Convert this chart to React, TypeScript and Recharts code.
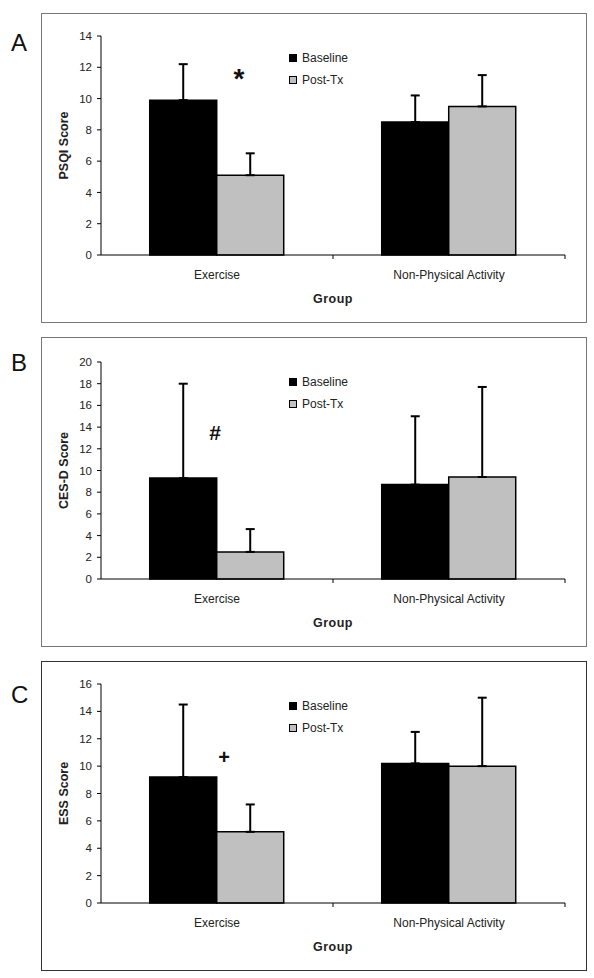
import { Bar, BarChart, ErrorBar, Legend, ReferenceDot, XAxis, YAxis } from "recharts";

const groups = ["Exercise", "Non-Physical Activity"];
const seriesNames = ["Baseline", "Post-Tx"];

// panel A - PSQI
const psqiBaseline = [9.9, 8.5];
const psqiBaselineSd = [2.3, 1.7];
const psqiPost = [5.1, 9.5];
const psqiPostSd = [1.4, 2.0];
const psqiTicks = [0, 2, 4, 6, 8, 10, 12, 14];

// panel B - CES-D
const cesdBaseline = [9.3, 8.7];
const cesdBaselineSd = [8.7, 6.3];
const cesdPost = [2.5, 9.4];
const cesdPostSd = [2.1, 8.3];
const cesdTicks = [0, 2, 4, 6, 8, 10, 12, 14, 16, 18, 20];

// panel C - ESS
const essBaseline = [9.2, 10.2];
const essBaselineSd = [5.3, 2.3];
const essPost = [5.2, 10.0];
const essPostSd = [2.0, 5.0];
const essTicks = [0, 2, 4, 6, 8, 10, 12, 14, 16];

// significance marks above the Exercise group
const marks = ["*", "#", "+"];
const markLevels = [11.3, 13.5, 10.7];

const FONT = '"Liberation Sans", Arial, sans-serif';

const GroupTick = (props: any) => {
  const { x, y, payload } = props;
  const edge = payload && payload.offset ? x + payload.offset : null;
  return (
    <g>
      <text x={x} y={y} dy="0.71em" textAnchor="middle" fontSize={12} fill="#222">
        {payload.value}
      </text>
      {edge !== null && <line x1={edge} x2={edge} y1={y - 15} y2={y - 11} stroke="#000" />}
    </g>
  );
};

const YTitle = (props: any) => {
  const { viewBox, value } = props;
  const cx = viewBox.x + 23;
  const cy = viewBox.y + viewBox.height / 2;
  return (
    <text x={cx} y={cy} transform={`rotate(-90 ${cx} ${cy})`} textAnchor="middle" dominantBaseline="central" fontSize={12.5} fontWeight="bold" fill="#222">
      {value}
    </text>
  );
};

const XTitle = (props: any) => {
  const { viewBox, value } = props;
  return (
    <text x={viewBox.x + viewBox.width / 2} y={viewBox.y + 44} textAnchor="middle" dominantBaseline="central" fontSize={12.5} fontWeight="bold" fill="#222" letterSpacing={0.5}>
      {value}
    </text>
  );
};

const LegendBox = (props: any) => (
  <div style={{ fontFamily: FONT, fontSize: 12, color: "#222" }}>
    {(props.payload || []).map((entry: any) => (
      <div key={entry.value} style={{ height: 22, display: "flex", alignItems: "center" }}>
        <span style={{ width: 8, height: 8, background: entry.color, border: "1.5px solid #000", boxSizing: "border-box", marginRight: 5, display: "inline-block" }} />
        {entry.value}
      </div>
    ))}
  </div>
);

type PanelProps = {
  letter: string;
  letterY: number;
  top: number;
  plotTop: number;
  frame: string;
  yTitle: string;
  ticks: number[];
  baseline: number[];
  baselineSd: number[];
  post: number[];
  postSd: number[];
  mark: string;
  markLevel: number;
  markDx: number;
  markSize: number;
};

function Panel(p: PanelProps) {
  const data = groups.map((g, i) => ({
    group: g,
    baseline: p.baseline[i],
    baselineErr: [0, p.baselineSd[i]],
    post: p.post[i],
    postErr: [0, p.postSd[i]],
  }));
  return (
    <>
      <div style={{ position: "absolute", left: 11, top: p.letterY - 12, fontSize: 24, lineHeight: "24px", color: "#111" }}>{p.letter}</div>
      <div style={{ position: "absolute", left: 41, top: p.top, width: 546, height: 310, border: `1px solid ${p.frame}`, boxSizing: "border-box" }} />
      <div style={{ position: "absolute", left: 41, top: p.top }}>
        <BarChart width={546} height={310} data={data} margin={{ top: p.plotTop, right: 22, bottom: 16, left: 0 }} barCategoryGap="21%" barGap={0}>
          <XAxis
            dataKey="group"
            height={52}
            tickSize={0}
            tickMargin={15}
            tickLine={false}
            axisLine={{ stroke: "#000" }}
            tick={GroupTick}
            interval={0}
            label={{ value: "Group", content: XTitle }}
          />
          <YAxis
            width={60}
            domain={[p.ticks[0], p.ticks[p.ticks.length - 1]]}
            ticks={p.ticks}
            interval={0}
            tickSize={4}
            tickMargin={5}
            axisLine={{ stroke: "#000" }}
            tickLine={{ stroke: "#000" }}
            tick={{ fontSize: 11.5, fill: "#222" }}
            label={{ value: p.yTitle, content: YTitle }}
          />
          <Legend layout="vertical" align="center" verticalAlign="middle" wrapperStyle={{ left: 248, top: 34, width: "auto" }} content={LegendBox} />
          <Bar dataKey="baseline" name={seriesNames[0]} fill="#000" stroke="#000" strokeWidth={1.5} isAnimationActive={false}>
            <ErrorBar dataKey="baselineErr" width={4.5} stroke="#000" strokeWidth={2} isAnimationActive={false} />
          </Bar>
          <Bar dataKey="post" name={seriesNames[1]} fill="#c0c0c0" stroke="#000" strokeWidth={1.5} isAnimationActive={false}>
            <ErrorBar dataKey="postErr" width={4.5} stroke="#000" strokeWidth={2} isAnimationActive={false} />
          </Bar>
          <ReferenceDot
            x={groups[0]}
            y={p.markLevel}
            r={0}
            shape={(s: any) => (
              <text x={s.cx + p.markDx} y={s.cy} textAnchor="middle" dominantBaseline="central" fontSize={p.markSize} fontWeight="bold" fill="#111">
                {p.mark}
              </text>
            )}
          />
        </BarChart>
      </div>
    </>
  );
}

export default function App() {
  return (
    <div style={{ position: "absolute", left: 0, top: 0, width: 594, height: 978, background: "#fff", fontFamily: FONT }}>
      <Panel letter="A" letterY={43} top={13} plotTop={23} frame="#777" yTitle="PSQI Score" ticks={psqiTicks}
        baseline={psqiBaseline} baselineSd={psqiBaselineSd} post={psqiPost} postSd={psqiPostSd}
        mark={marks[0]} markLevel={markLevels[0]} markDx={22} markSize={28} />
      <Panel letter="B" letterY={363} top={337} plotTop={25} frame="#777" yTitle="CES-D Score" ticks={cesdTicks}
        baseline={cesdBaseline} baselineSd={cesdBaselineSd} post={cesdPost} postSd={cesdPostSd}
        mark={marks[1]} markLevel={markLevels[1]} markDx={-2} markSize={21} />
      <Panel letter="C" letterY={695} top={661} plotTop={23} frame="#333" yTitle="ESS Score" ticks={essTicks}
        baseline={essBaseline} baselineSd={essBaselineSd} post={essPost} postSd={essPostSd}
        mark={marks[2]} markLevel={markLevels[2]} markDx={7} markSize={20} />
    </div>
  );
}
